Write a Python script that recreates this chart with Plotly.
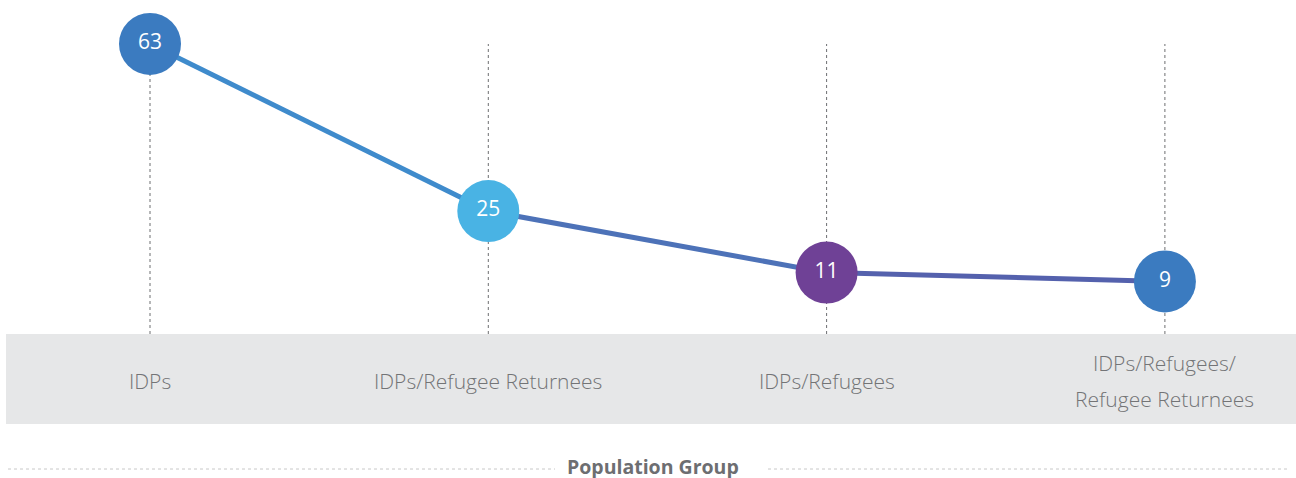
import plotly.graph_objects as go

categories = ["IDPs", "IDPs/Refugee Returnees", "IDPs/Refugees", "IDPs/Refugees/<br>Refugee Returnees"]
values = [63, 25, 11, 9]
point_colors = ["#3b7bc0", "#49b3e4", "#6f4196", "#3b7bc0"]
segment_colors = ["#3f8bcc", "#4d72b8", "#5461ad"]
axis_title = "Population Group"

W, H = 1296, 478
top, bottom = 10, 334
xs = list(range(len(categories)))

fig = go.Figure()

# connecting segments
for i in range(len(values) - 1):
    fig.add_trace(go.Scatter(
        x=[xs[i], xs[i + 1]], y=[values[i], values[i + 1]],
        mode="lines", line=dict(color=segment_colors[i], width=5),
        hoverinfo="skip", showlegend=False, cliponaxis=False,
    ))

# circles with labels
fig.add_trace(go.Scatter(
    x=xs, y=values, mode="markers+text",
    marker=dict(size=62, color=point_colors, line=dict(width=0), opacity=1),
    text=[str(v) for v in values], textposition="middle center",
    textfont=dict(family="Open Sans", size=21, color="white"),
    showlegend=False, cliponaxis=False,
))

plot_h = bottom - top

def py(px):
    return (bottom - px) / plot_h

shapes = [
    dict(type="rect", xref="paper", yref="paper", x0=6 / W, x1=1, y0=py(334), y1=py(424),
         fillcolor="#e6e7e8", line=dict(width=0), layer="below"),
    dict(type="line", xref="paper", yref="paper", x0=8 / W, x1=555 / W, y0=py(469), y1=py(469),
         line=dict(color="#c8c8c8", width=1, dash="dot")),
    dict(type="line", xref="paper", yref="paper", x0=768 / W, x1=1290 / W, y0=py(469), y1=py(469),
         line=dict(color="#c8c8c8", width=1, dash="dot")),
]
for i in xs:
    shapes.append(dict(type="line", xref="x", yref="paper", x0=xs[i], x1=xs[i],
                       y0=0, y1=py(44), layer="below",
                       line=dict(color="#6d6e71", width=1, dash="dot")))

annotations = []
for i, c in enumerate(categories):
    lines = c.split("<br>")
    n = len(lines)
    for k, ln in enumerate(lines):
        ypx = 381 + (k - (n - 1) / 2) * 36
        annotations.append(dict(
            x=xs[i], y=py(ypx), xref="x", yref="paper", text=ln.strip(), showarrow=False,
            xanchor="center", yanchor="middle", align="center",
            font=dict(family="Open Sans", size=21, color="#737476", weight=300),
        ))
annotations.append(dict(
    x=653 / W, y=py(466), xref="paper", yref="paper", text="<b>" + axis_title + "</b>",
    showarrow=False, xanchor="center", yanchor="middle",
    font=dict(family="Open Sans", size=19.5, color="#6d6e71"),
))

# pixel mapping: x px = 150 + 338.3*i ; y px = 321 - 4.398*v
x0 = -150 / 338.3
x1 = (W - 150) / 338.3
ytop = (321 - top) / 4.398
ybot = (321 - bottom) / 4.398

fig.update_layout(
    width=W, height=H,
    margin=dict(l=0, r=0, t=top, b=H - bottom),
    paper_bgcolor="white", plot_bgcolor="white",
    xaxis=dict(range=[x0, x1], showticklabels=False, showgrid=False, zeroline=False,
               showline=False, ticks=""),
    yaxis=dict(range=[ybot, ytop], showgrid=False, zeroline=False, showticklabels=False,
               showline=False, ticks=""),
    shapes=shapes, annotations=annotations,
)

fig.write_html("out.html", config={"displayModeBar": False},
               post_script="document.body.style.margin='0';document.body.style.padding='0';")
